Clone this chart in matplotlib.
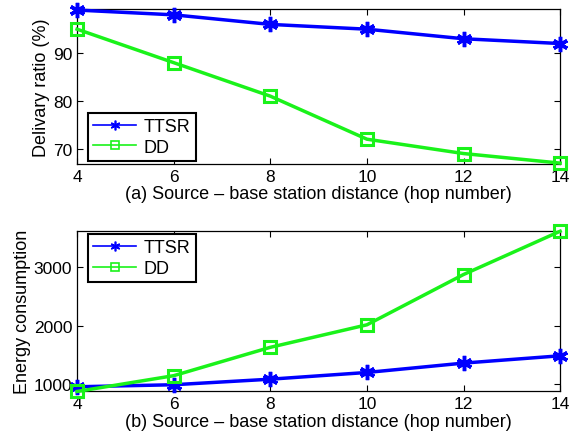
import numpy as np
import matplotlib.pyplot as plt
from matplotlib.lines import Line2D

hops = [4, 6, 8, 10, 12, 14]
ttsr_ratio = [99, 98, 96, 95, 93, 92]
dd_ratio = [95, 88, 81, 72, 69, 67]
ttsr_energy = [960, 995, 1090, 1205, 1365, 1490]
dd_energy = [880, 1150, 1635, 2020, 2880, 3620]

plt.rcParams['font.family'] = ['Liberation Sans', 'DejaVu Sans']
plt.rcParams['font.size'] = 12

blue = (0, 0, 1)
green = (0.1, 0.95, 0.1)
ast = (6, 2, 0)


def style(ax):
    ax.tick_params(direction='in', top=True, right=True, length=4, width=0.8,
                   labelsize=12.5)
    for s in ax.spines.values():
        s.set_linewidth(0.9)
    ax.set_xlim(4, 14)
    ax.set_xticks(hops)


def legend(ax, loc, anchor):
    h = [Line2D([], [], color=blue, lw=1.2, marker=ast, ms=7, mew=1.2),
         Line2D([], [], color=green, lw=1.2, marker='s', ms=6, mfc='none',
                mew=1.2)]
    lg = ax.legend(h, ['TTSR', 'DD'], loc=loc, bbox_to_anchor=anchor,
                   fancybox=False, framealpha=1, edgecolor='black',
                   fontsize=13, handlelength=2.4, handletextpad=0.4,
                   borderaxespad=0, labelspacing=0.2, borderpad=0.3)
    lg.get_frame().set_linewidth(1.5)


fig = plt.figure(figsize=(5.71, 4.39), dpi=100)
ax1 = fig.add_axes([0.135, 0.624, 0.846, 0.353])
ax2 = fig.add_axes([0.135, 0.106, 0.846, 0.365])

ax1.plot(hops, ttsr_ratio, color=blue, lw=2.5, marker=ast, ms=11, mew=2.5,
         clip_on=False, zorder=3)
ax1.plot(hops, dd_ratio, color=green, lw=2.5, marker='s', ms=9, mfc='none',
         mew=2.2, clip_on=False, zorder=3)
style(ax1)
ax1.set_ylim(66.8, 99.2)
ax1.set_yticks([70, 80, 90])
ax1.set_ylabel('Delivary ratio (%)', fontsize=13, labelpad=2)
ax1.set_xlabel('(a) Source \u2013 base station distance (hop number)',
               fontsize=13, labelpad=1)
legend(ax1, 'lower left', (0.022, 0.02))

ax2.plot(hops, ttsr_energy, color=blue, lw=2.5, marker=ast, ms=11, mew=2.5,
         clip_on=False, zorder=3)
ax2.plot(hops, dd_energy, color=green, lw=2.5, marker='s', ms=9, mfc='none',
         mew=2.2, clip_on=False, zorder=3)
style(ax2)
ax2.set_ylim(880, 3620)
ax2.set_yticks([1000, 2000, 3000])
ax2.set_ylabel('Energy consumption', fontsize=13, labelpad=2)
ax2.set_xlabel('(b) Source \u2013 base station distance (hop number)',
               fontsize=13, labelpad=1)
legend(ax2, 'upper left', (0.022, 0.983))

fig.savefig('out.png', dpi=100)
